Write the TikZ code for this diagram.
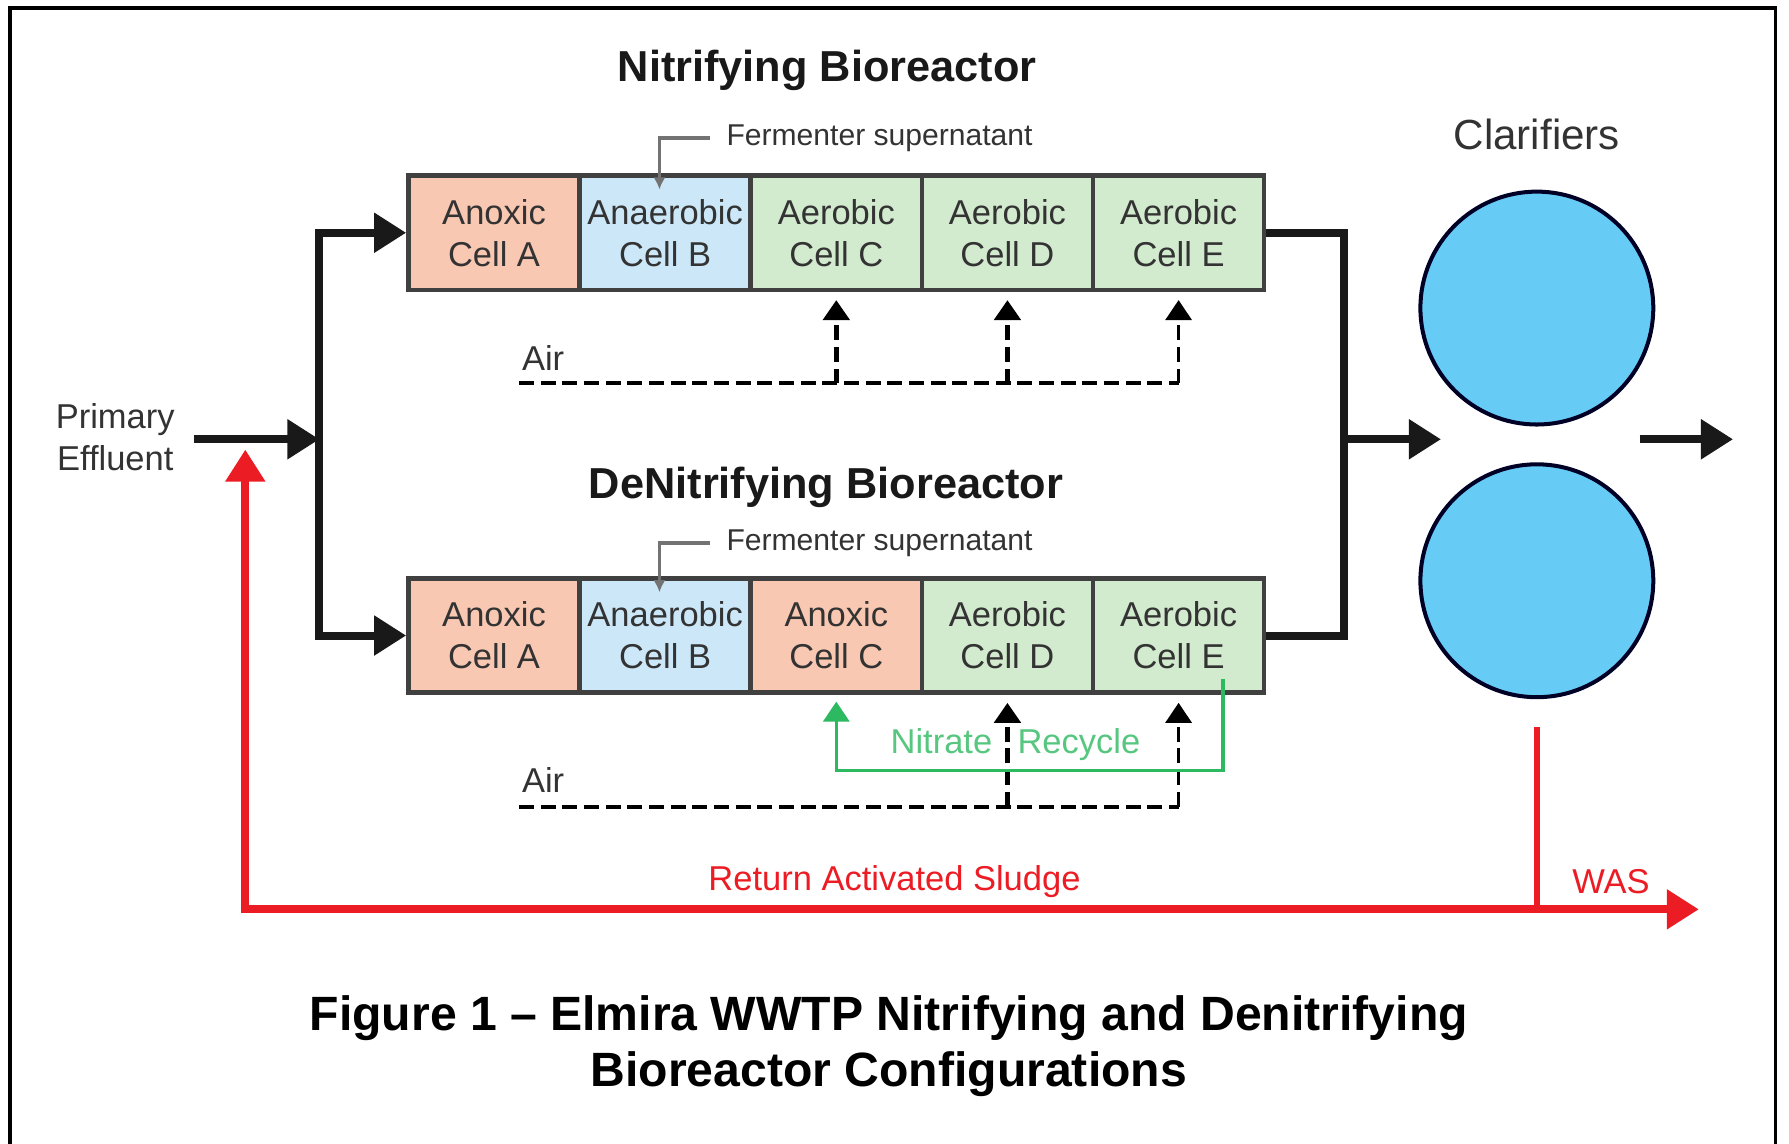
\documentclass[tikz,border=0pt]{standalone}
\usepackage{fontspec}
\setmainfont{Liberation Sans}
\usetikzlibrary{arrows.meta,calc}

\definecolor{anoxic}{RGB}{248,200,178}
\definecolor{anaerobic}{RGB}{204,232,248}
\definecolor{aerobic}{RGB}{210,234,206}
\definecolor{clarblue}{RGB}{102,204,245}
\definecolor{recgreen}{RGB}{45,185,95}
\definecolor{rasred}{RGB}{236,28,36}

\begin{document}
\begin{tikzpicture}[x=0.01cm,y=-0.01cm]
    \tikzstyle{cellbox}=[draw=black!75, line width=1.1pt, minimum width=1.5cm, minimum height=1cm, inner sep=0pt, align=center, text=black!80, font=\fontsize{8.6}{10.5}\selectfont]
    \tikzstyle{lbl}=[font=\fontsize{8.6}{10.5}\selectfont, text=black!80, align=center, inner sep=1pt]
    \tikzstyle{heading}=[font=\fontsize{10.8}{13}\selectfont\bfseries, text=black!90]
    \tikzstyle{flow}=[line width=2pt, black!90, -{Triangle[length=8pt,width=9.5pt]}]
    \tikzstyle{feed}=[line width=0.8pt, black!55, -{Latex[length=3pt,width=3pt]}]
    \tikzstyle{airline}=[line width=1pt, dash pattern=on 3.7pt off 1.7pt]
    \tikzstyle{airarrow}=[airline, -{Triangle[length=5pt,width=6.5pt]}, shorten >=2pt]
    \tikzstyle{recycle}=[line width=0.8pt, recgreen, -{Triangle[length=5pt,width=6.5pt]}, shorten >=1.7pt]
    \tikzstyle{ras}=[line width=2pt, rasred, {Triangle[length=8pt,width=9.5pt]}-{Triangle[length=8pt,width=9.5pt]}]
    \tikzstyle{clar}=[circle, draw=black!85!blue, line width=1pt, fill=clarblue, minimum size=2.04cm, inner sep=0pt]

    \useasboundingbox (0,0) rectangle (1568,1002);
    \draw[line width=0.9pt] (9,1020) -- (9,7) -- (1556,7) -- (1556,1020);

    % nitrifying train
    \node[heading] (ntitle) at (725,62) {Nitrifying Bioreactor};
    \foreach \c/\kind/\col [count=\i] in {A/Anoxic/anoxic, B/Anaerobic/anaerobic, C/Aerobic/aerobic, D/Aerobic/aerobic, E/Aerobic/aerobic}
      {\node[cellbox, fill=\col] (n\c) at (283+150*\i,204) {\kind\\Cell \c};}
    \node[lbl, font=\fontsize{7.5}{9}\selectfont, inner sep=4pt, anchor=west] (nferm) at (622,121) {Fermenter supernatant};
    \draw[feed] (nferm.west) -| ($(nB.north)+(-5,14)$);
    \node[lbl] (nair) at (476,314) {Air};
    \coordinate (nairL) at (455,336);
    \draw[airline] (nairL) -- (nE |- nairL);
    \foreach \c in {C,D} {\draw[airarrow, line width=1.3pt] (n\c |- nairL) -- (n\c.south);}
    \draw[airarrow, line width=0.8pt] (nE |- nairL) -- (nE.south);

    % denitrifying train
    \node[heading] (dtitle) at (724,427) {DeNitrifying Bioreactor};
    \foreach \c/\kind/\col [count=\i] in {A/Anoxic/anoxic, B/Anaerobic/anaerobic, C/Anoxic/anoxic, D/Aerobic/aerobic, E/Aerobic/aerobic}
      {\node[cellbox, fill=\col] (d\c) at (283+150*\i,557) {\kind\\Cell \c};}
    \node[lbl, font=\fontsize{7.5}{9}\selectfont, inner sep=4pt, anchor=west] (dferm) at (622,476) {Fermenter supernatant};
    \draw[feed] (dferm.west) -| ($(dB.north)+(-5,14)$);
    \node[lbl] (dair) at (476,684) {Air};
    \coordinate (dairL) at (455,707);
    \draw[airline] (dairL) -- (dE |- dairL);
    \draw[airarrow, line width=1.3pt] (dD |- dairL) -- (dD.south);
    \draw[airarrow, line width=0.8pt] (dE |- dairL) -- (dE.south);
    \draw[recycle] ($(dE.south)+(39,-14)$) |- ($(dC.south)+(0,66)$) -- (dC.south);
    \node[lbl, text=recgreen!80!white] (nitrec) at (890,653) {Nitrate\hspace{6.3pt}Recycle};

    % influent and split
    \node[lbl] (pe) at (101,383) {Primary\\Effluent};
    \coordinate (pein) at (170,385);
    \coordinate (split) at (280,385);
    \draw[flow] (pein) -- (split);
    \draw[flow] (split) |- (nA.west);
    \draw[flow] (split) |- (dA.west);

    % clarifiers
    \node[lbl, font=\fontsize{10.5}{12}\selectfont] (clartitle) at (1347,118) {Clarifiers};
    \node[clar] (c1) at (1347,270) {};
    \node[clar] (c2) at (1347,509) {};
    \coordinate (merge) at (1178,385);
    \coordinate (clarin) at (1263,385);
    \coordinate (clarout) at (1437,385);
    \coordinate (effout) at (1519,385);
    \draw[line width=2pt, black!90] (nE.east) -| (merge) |- (dE.east);
    \draw[flow] (merge) -- (clarin);
    \draw[flow] (clarout) -- (effout);

    % return and waste sludge
    \coordinate (rasup) at (215,394);
    \coordinate (wasout) at (1489,797);
    \coordinate (wastop) at (1347,637);
    \draw[ras] (rasup) |- (wasout);
    \draw[line width=1.4pt, rasred] (wastop) -- (wastop |- wasout);
    \node[lbl, text=rasred] (raslbl) at (784,773) {Return Activated Sludge};
    \node[lbl, text=rasred] (waslbl) at (1412,773) {WAS};

    \node[font=\fontsize{12}{14}\selectfont\bfseries, align=center] (caption) at (779,917) {Figure 1 -- Elmira WWTP Nitrifying and Denitrifying\\Bioreactor Configurations};
\end{tikzpicture}
\end{document}
